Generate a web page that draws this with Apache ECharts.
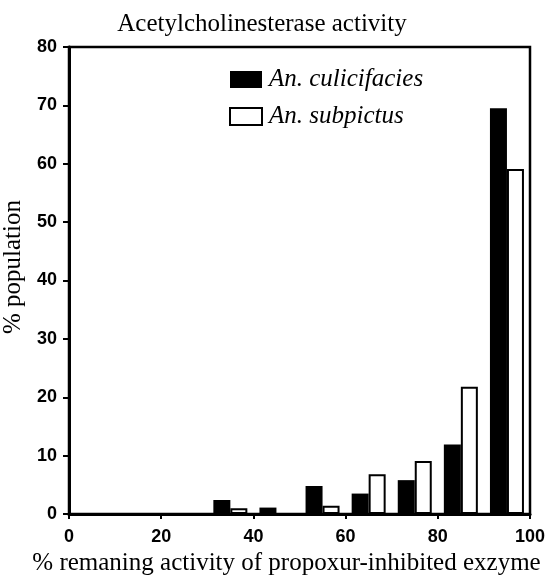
<!DOCTYPE html>
<html>
<head>
<meta charset="utf-8">
<script src="https://cdn.jsdelivr.net/npm/echarts@6/dist/echarts.min.js"></script>
<style>html,body{margin:0;padding:0;background:#fff}#c{width:548px;height:576px}</style>
</head>
<body>
<div id="c"></div>
<script>
const binCenters = [35, 45, 55, 65, 75, 85, 95];
const culicifacies = [2.4, 1.1, 4.8, 3.5, 5.8, 11.9, 69.5];
const subpictus = [1.0, 0, 1.4, 6.8, 9.1, 21.8, 59.1];
const xTicks = [0, 20, 40, 60, 80, 100];
const yTicks = [0, 10, 20, 30, 40, 50, 60, 70, 80];
const seriesNames = ['An. culicifacies', 'An. subpictus'];

const chart = echarts.init(document.getElementById('c'), null, {renderer: 'canvas'});
const serif = '"Liberation Serif", "DejaVu Serif", serif';
const sans = '"Liberation Sans", "DejaVu Sans", sans-serif';
chart.setOption({
  animation: false,
  backgroundColor: '#fff',
  title: {
    text: 'Acetylcholinesterase activity',
    left: 262, top: 12, textAlign: 'center', padding: 0,
    textStyle: {fontFamily: serif, fontSize: 25, fontWeight: 'normal', color: '#000'}
  },
  legend: {
    orient: 'vertical', left: 229, top: 67, padding: 0, itemWidth: 32, itemHeight: 17, itemGap: 12,
    icon: 'rect',
    data: seriesNames,
    textStyle: {fontFamily: serif, fontStyle: 'italic', fontSize: 25, color: '#000', padding: [0, 0, 0, 2]}
  },
  grid: {left: 69, right: 18, top: 47, bottom: 62, containLabel: false, outerBoundsMode: 'none',
    show: true, borderColor: '#000', borderWidth: 2.5, backgroundColor: 'transparent'},
  xAxis: {
    type: 'value', min: xTicks[0], max: xTicks[xTicks.length - 1], interval: 20,
    name: '% remaning activity of propoxur-inhibited exzyme',
    nameLocation: 'middle', nameGap: 34,
    nameTextStyle: {fontFamily: serif, fontSize: 25, color: '#000', padding: [0, 26, 0, 0]},
    axisLine: {show: true, lineStyle: {color: '#000', width: 3}},
    axisTick: {show: true, length: 5, lineStyle: {color: '#000', width: 2}},
    axisLabel: {margin: 14, fontFamily: sans, fontSize: 18, fontWeight: 'bold', color: '#000'},
    splitLine: {show: false}
  },
  yAxis: {
    type: 'value', min: yTicks[0], max: yTicks[yTicks.length - 1], interval: 10,
    name: '% population', nameLocation: 'middle', nameGap: 40, nameRotate: 90,
    nameTextStyle: {fontFamily: serif, fontSize: 25, color: '#000', padding: [0, 0, 0, 27]},
    axisLine: {show: true, lineStyle: {color: '#000', width: 3}},
    axisTick: {show: true, length: 6, lineStyle: {color: '#000', width: 2}},
    axisLabel: {margin: 12, fontFamily: sans, fontSize: 18, fontWeight: 'bold', color: '#000'},
    splitLine: {show: false}
  },
  series: [
    {
      name: seriesNames[0], type: 'bar', barWidth: 17, barGap: '0%',
      itemStyle: {color: '#000', borderColor: '#000', borderWidth: 0},
      data: binCenters.map((x, i) => [x, culicifacies[i]])
    },
    {
      name: seriesNames[1], type: 'bar', barWidth: 17, barGap: '0%',
      itemStyle: {color: '#fff', borderColor: '#000', borderWidth: 2},
      data: binCenters.map((x, i) => [x, subpictus[i]])
    }
  ]
});
</script>
</body>
</html>
